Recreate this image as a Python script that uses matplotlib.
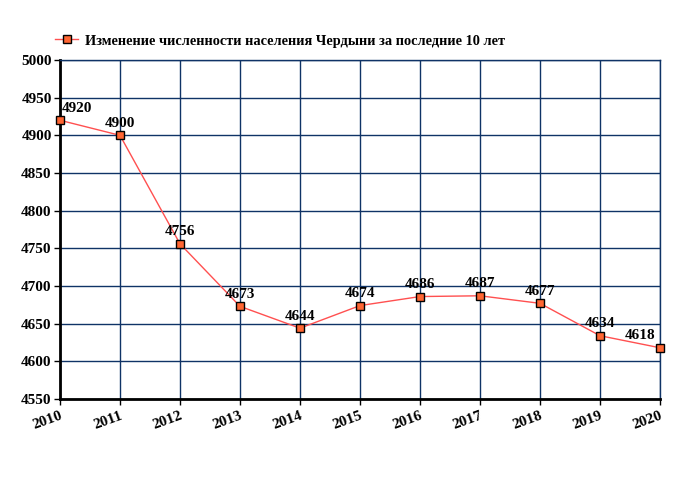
import matplotlib
matplotlib.use("Agg")
from matplotlib import pyplot as plt
from matplotlib.lines import Line2D

years = [2010, 2011, 2012, 2013, 2014, 2015, 2016, 2017, 2018, 2019, 2020]
population = [4920, 4900, 4756, 4673, 4644, 4674, 4686, 4687, 4677, 4634, 4618]
title = "Изменение численности населения Чердыни за последние 10 лет"

plt.rcParams['font.family'] = ['Liberation Serif', 'DejaVu Serif']
plt.rcParams['font.weight'] = 'bold'

fig = plt.figure(figsize=(6.8, 5), dpi=100)
ax = fig.add_axes([0.0882, 0.202, 0.8824, 0.678])

grid_col = '#0f3366'
ax.set_xlim(2010, 2020)
ax.set_ylim(4550, 5000)
ax.set_xticks(years)
ax.set_yticks(range(4550, 5001, 50))
ax.grid(True, color=grid_col, linewidth=1)
ax.set_axisbelow(True)

ax.plot(years, population, color='#ff5050', linewidth=1, zorder=3,
        marker='s', markersize=5.8, markerfacecolor='#ff6633',
        markeredgecolor='black', markeredgewidth=1, clip_on=False)

for i, (x, y) in enumerate(zip(years, population)):
    ha = 'center'
    dx = 0
    if i == 0:
        ha = 'left'
        dx = 1
    elif i == len(years) - 1:
        ha = 'right'
        dx = -3
    ax.annotate(str(y), (x, y), xytext=(dx, 4), textcoords='offset points',
                ha=ha, va='bottom', fontsize=11, fontweight='bold', zorder=4)

for s in ['top', 'right']:
    ax.spines[s].set_color(grid_col)
    ax.spines[s].set_linewidth(1)
for s in ['left', 'bottom']:
    ax.spines[s].set_linewidth(2)
    ax.spines[s].set_color('black')

ax.tick_params(axis='both', labelsize=11, length=4, width=1, direction='out')
ax.tick_params(axis='y', pad=2)
for lab in ax.get_xticklabels():
    lab.set_rotation(20)
    lab.set_ha('right')
    lab.set_rotation_mode('anchor')
    lab.set_fontweight('bold')
for lab in ax.get_yticklabels():
    lab.set_fontweight('bold')

handle = Line2D([0], [0], color='#ff5050', linewidth=1, marker='s', markersize=5.8,
                markerfacecolor='#ff6633', markeredgecolor='black')
fig.legend([handle], [title], loc='center left', bbox_to_anchor=(0.062, 0.918),
           frameon=False, handlelength=1.6, handletextpad=0.5,
           prop={'weight': 'bold', 'size': 10.4})

fig.savefig('out.png', dpi=100)
